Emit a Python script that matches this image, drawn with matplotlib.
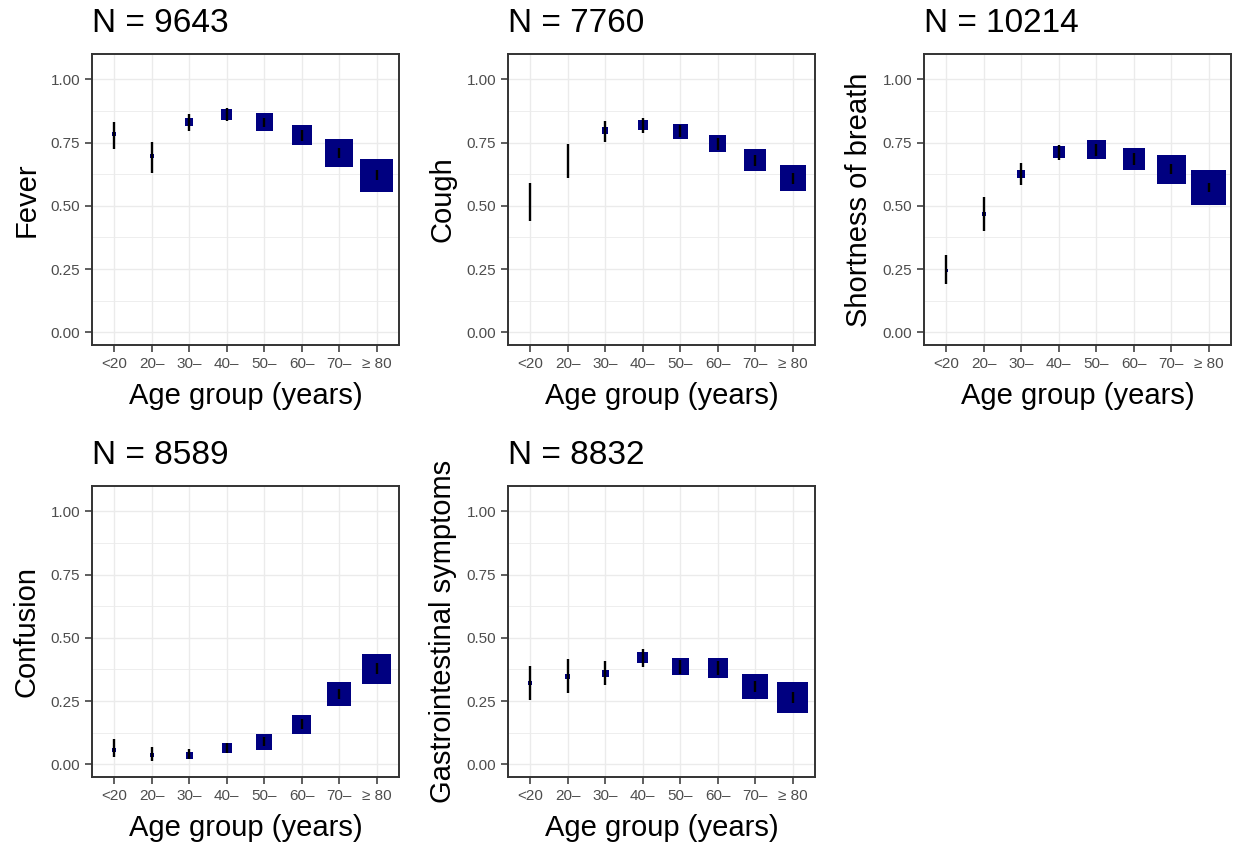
import matplotlib

matplotlib.use("Agg")
import matplotlib.pyplot as plt
import numpy as np

plt.rcParams["font.family"] = ["Liberation Sans", "DejaVu Sans"]

age_groups = ["<20", "20\u2013", "30\u2013", "40\u2013", "50\u2013", "60\u2013", "70\u2013", "\u2265 80"]

symptoms = ["Fever", "Cough", "Shortness of breath", "Confusion", "Gastrointestinal symptoms"]
totals = [9643, 7760, 10214, 8589, 8832]

# proportion with symptom, lower / upper 95% CI, patients per age group
fever_p = [0.784, 0.696, 0.831, 0.862, 0.831, 0.779, 0.709, 0.621]
fever_lo = [0.724, 0.631, 0.794, 0.836, 0.811, 0.756, 0.690, 0.604]
fever_hi = [0.832, 0.753, 0.862, 0.885, 0.848, 0.798, 0.729, 0.641]
fever_n = [56, 56, 208, 424, 1047, 1442, 2608, 3742]

cough_p = [0.516, 0.682, 0.798, 0.820, 0.795, 0.745, 0.681, 0.608]
cough_lo = [0.440, 0.608, 0.753, 0.788, 0.771, 0.720, 0.657, 0.586]
cough_hi = [0.591, 0.746, 0.837, 0.846, 0.819, 0.769, 0.700, 0.631]
cough_n = [14, 22, 139, 329, 788, 1047, 1803, 2366]

sob_p = [0.246, 0.466, 0.627, 0.714, 0.723, 0.685, 0.644, 0.573]
sob_lo = [0.191, 0.401, 0.583, 0.682, 0.698, 0.662, 0.624, 0.555]
sob_hi = [0.306, 0.534, 0.670, 0.742, 0.744, 0.707, 0.664, 0.591]
sob_n = [32, 56, 207, 479, 1264, 1694, 2944, 4288]

confusion_p = [0.057, 0.036, 0.036, 0.066, 0.089, 0.158, 0.278, 0.378]
confusion_lo = [0.028, 0.013, 0.020, 0.045, 0.072, 0.138, 0.257, 0.358]
confusion_hi = [0.099, 0.068, 0.059, 0.086, 0.109, 0.179, 0.297, 0.399]
confusion_n = [56, 71, 172, 350, 896, 1264, 2135, 3087]

gi_p = [0.320, 0.347, 0.359, 0.422, 0.387, 0.380, 0.308, 0.264]
gi_lo = [0.254, 0.282, 0.312, 0.384, 0.358, 0.355, 0.287, 0.243]
gi_hi = [0.389, 0.416, 0.407, 0.457, 0.413, 0.407, 0.329, 0.284]
gi_n = [56, 88, 172, 424, 1047, 1400, 2312, 3213]

panels = [
    (fever_p, fever_lo, fever_hi, fever_n),
    (cough_p, cough_lo, cough_hi, cough_n),
    (sob_p, sob_lo, sob_hi, sob_n),
    (confusion_p, confusion_lo, confusion_hi, confusion_n),
    (gi_p, gi_lo, gi_hi, gi_n),
]

W, H = 1238, 846
fig = plt.figure(figsize=(W / 100, H / 100), dpi=100)

# axes boxes in pixels: left, top, right, bottom
lefts = [92, 508, 924]
rows = [(54, 345), (486, 777)]
box_w = 307

border = "#333333"
grid = "#EBEBEB"
x = np.arange(1, len(age_groups) + 1)

for i, (name, total, (p, lo, hi, n)) in enumerate(zip(symptoms, totals, panels)):
    top, bottom = rows[i // 3]
    left = lefts[i % 3]
    ax = fig.add_axes([left / W, 1 - bottom / H, box_w / W, (bottom - top) / H])

    # marker area follows patient count: side (px) = sqrt(n / 3.5)
    sizes = np.array(n) / 3.5 * 0.72**2
    ax.scatter(x, p, s=sizes, marker="s", color="#000080", linewidths=0, zorder=3)
    ax.vlines(x, lo, hi, color="black", linewidth=1.7, zorder=4)

    ax.set_xlim(0.4, 8.6)
    ax.set_ylim(-0.05, 1.1)
    ax.set_xticks(x)
    ax.set_xticklabels(age_groups)
    ax.set_yticks([0, 0.25, 0.5, 0.75, 1.0])
    ax.set_yticklabels(["0.00", "0.25", "0.50", "0.75", "1.00"])
    ax.set_yticks([0.125, 0.375, 0.625, 0.875], minor=True)

    ax.grid(True, which="major", color=grid, linewidth=1.0, zorder=0)
    ax.grid(True, which="minor", axis="y", color=grid, linewidth=0.6, zorder=0)
    ax.set_axisbelow(True)

    for sp in ax.spines.values():
        sp.set_color(border)
        sp.set_linewidth(1.4)
    ax.tick_params(axis="both", which="major", length=5, width=1.1, color=border,
                   labelsize=11, labelcolor="#4D4D4D", pad=3.5)
    ax.tick_params(axis="both", which="minor", length=0)

    ax.set_xlabel("Age group (years)", fontsize=21, labelpad=8)
    ax.set_ylabel(name, fontsize=21, labelpad=7)
    ax.set_title(f"N = {total}", loc="left", fontsize=24, pad=16)

fig.savefig("out.png", dpi=100)
